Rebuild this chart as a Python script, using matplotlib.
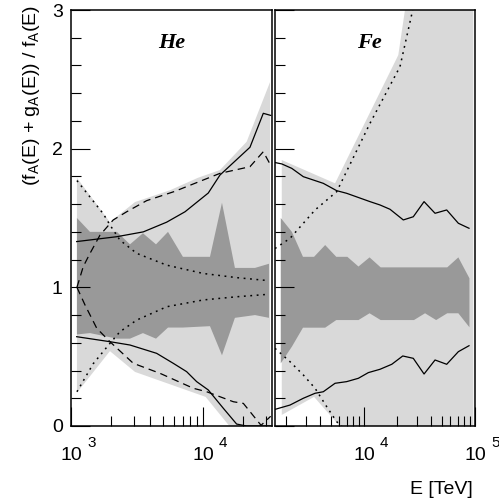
import numpy as np
import matplotlib
matplotlib.use('Agg')
import matplotlib.pyplot as plt
from matplotlib.ticker import LogLocator, NullFormatter, MultipleLocator

plt.rcParams['font.family'] = ['Liberation Sans', 'DejaVu Sans']
plt.rcParams['mathtext.fontset'] = 'custom'
plt.rcParams['mathtext.rm'] = 'Liberation Sans'
plt.rcParams['mathtext.it'] = 'Liberation Sans:italic'

LIGHT = '#d9d9d9'
DARK = '#999999'

# ---- He panel (x values are log10(E/TeV)) ----
he_light_up_x = [3.045, 3.295, 3.485, 3.75, 3.962, 4.129, 4.331, 4.508]
he_light_up_y = [1.79, 1.47, 1.615, 1.70, 1.79, 1.846, 2.05, 2.48]
he_light_lo_x = [3.045, 3.295, 3.485, 4.02, 4.2, 4.508]
he_light_lo_y = [0.24, 0.54, 0.39, 0.21, 0.0, 0.0]

he_dark_x = [3.045, 3.144, 3.348, 3.447, 3.545, 3.644, 3.735, 3.848, 4.053, 4.144, 4.242, 4.394, 4.5]
he_dark_up = [1.50, 1.40, 1.40, 1.31, 1.39, 1.31, 1.40, 1.22, 1.22, 1.61, 1.14, 1.14, 1.17]
he_dark_lo = [0.66, 0.67, 0.63, 0.63, 0.67, 0.63, 0.71, 0.71, 0.72, 0.51, 0.78, 0.80, 0.78]

he_solid_up_x = [3.043, 3.346, 3.548, 3.725, 3.864, 4.04, 4.129, 4.356, 4.457, 4.513]
he_solid_up_y = [1.33, 1.365, 1.40, 1.47, 1.545, 1.68, 1.81, 2.01, 2.255, 2.24]
he_solid_lo_x = [3.043, 3.295, 3.447, 3.649, 3.775, 3.876, 3.952, 4.04, 4.154, 4.255, 4.33, 4.513]
he_solid_lo_y = [0.644, 0.608, 0.584, 0.524, 0.452, 0.392, 0.32, 0.26, 0.128, 0.014, 0.0, 0.0]

he_dash_up_x = [3.045, 3.093, 3.144, 3.22, 3.32, 3.422, 3.573, 3.78, 4.129, 4.356, 4.457, 4.513]
he_dash_up_y = [1.0, 1.15, 1.245, 1.377, 1.486, 1.545, 1.625, 1.69, 1.822, 1.87, 1.978, 1.88]
he_dash_lo_x = [3.045, 3.106, 3.195, 3.27, 3.295, 3.472, 3.674, 3.927, 4.028, 4.23, 4.306, 4.44, 4.513]
he_dash_lo_y = [1.0, 0.873, 0.705, 0.632, 0.608, 0.452, 0.38, 0.272, 0.247, 0.175, 0.163, 0.005, 0.07]

he_dot_up_x = [3.045, 3.245, 3.295, 3.371, 3.498, 3.725, 4.002, 4.255, 4.5]
he_dot_up_y = [1.77, 1.53, 1.45, 1.34, 1.245, 1.16, 1.10, 1.07, 1.048]
he_dot_lo_x = [3.045, 3.169, 3.295, 3.371, 3.498, 3.725, 4.002, 4.255, 4.5]
he_dot_lo_y = [0.247, 0.45, 0.596, 0.68, 0.764, 0.86, 0.909, 0.932, 0.95]

# ---- Fe panel ----
fe_light_up_x = [3.259, 3.739, 4.309, 4.369, 4.985]
fe_light_up_y = [1.918, 1.75, 2.675, 3.0, 4.5]
fe_light_lo_x = [3.259, 3.55, 3.78, 4.985]
fe_light_lo_y = [0.08, 0.21, 0.0, 0.0]

fe_dark_x = [3.25, 3.35, 3.45, 3.55, 3.65, 3.75, 3.85, 3.95, 4.05,
             4.15, 4.25, 4.35, 4.45, 4.55, 4.65, 4.75, 4.85, 4.95]
fe_dark_up = [1.50, 1.40, 1.22, 1.22, 1.305, 1.22, 1.22, 1.15, 1.216,
              1.144, 1.144, 1.144, 1.144, 1.144, 1.144, 1.144, 1.216, 1.065]
fe_dark_lo = [0.452, 0.572, 0.709, 0.709, 0.709, 0.764, 0.764, 0.764, 0.813,
              0.764, 0.764, 0.764, 0.764, 0.813, 0.764, 0.813, 0.813, 0.712]

fe_solid_up_x = [3.198, 3.259, 3.349, 3.453, 3.633, 3.754, 3.844, 4.054, 4.144,
                 4.234, 4.354, 4.444, 4.541, 4.640, 4.745, 4.850, 4.946]
fe_solid_up_y = [1.90, 1.89, 1.858, 1.798, 1.75, 1.697, 1.678, 1.618, 1.594,
                 1.563, 1.486, 1.509, 1.618, 1.534, 1.558, 1.462, 1.426]
fe_solid_lo_x = [3.198, 3.333, 3.453, 3.559, 3.633, 3.739, 3.844, 3.949, 4.039,
                 4.144, 4.25, 4.349, 4.444, 4.541, 4.64, 4.745, 4.85, 4.946]
fe_solid_lo_y = [0.12, 0.151, 0.2, 0.236, 0.247, 0.308, 0.32, 0.344, 0.385,
                 0.409, 0.445, 0.505, 0.488, 0.375, 0.476, 0.445, 0.536, 0.579]

fe_dot_up_x = [3.198, 3.333, 3.559, 3.754, 4.054, 4.324, 4.432, 4.50]
fe_dot_up_y = [1.28, 1.353, 1.558, 1.69, 2.183, 2.591, 2.976, 3.3]
fe_dot_lo_x = [3.198, 3.333, 3.453, 3.559, 3.664, 3.754, 3.80]
fe_dot_lo_y = [0.56, 0.464, 0.368, 0.272, 0.139, 0.031, 0.0]

he_xlim = (3.0, 4.523)
fe_xlim = (3.198, 5.0)
he_ticks = [3, 4]
fe_ticks = [4, 5]


def E(x):
    return 10.0 ** np.asarray(x)


def band(ax, ux, uy, lx, ly, color):
    xs = np.r_[E(ux), E(lx)[::-1]]
    ys = np.r_[uy, ly[::-1]]
    ax.fill(xs, ys, color=color, lw=0, zorder=1)


fig = plt.figure(figsize=(4.99, 5.01), dpi=100)
ax1 = fig.add_axes([71 / 499, 75 / 501, 201 / 499, 416 / 501])
ax2 = fig.add_axes([275 / 499, 75 / 501, 200 / 499, 416 / 501])

dash = (0, (6, 4))
dot = (0, (1.2, 3))
lw = 0.9

# He
band(ax1, he_light_up_x, he_light_up_y, he_light_lo_x, he_light_lo_y, LIGHT)
band(ax1, he_dark_x, he_dark_up, he_dark_x, he_dark_lo, DARK)
ax1.plot(E(he_solid_up_x), he_solid_up_y, 'k-', lw=lw, zorder=3)
ax1.plot(E(he_solid_lo_x), he_solid_lo_y, 'k-', lw=lw, zorder=3)
ax1.plot(E(he_dash_up_x), he_dash_up_y, color='k', ls=dash, lw=lw, zorder=3)
ax1.plot(E(he_dash_lo_x), he_dash_lo_y, color='k', ls=dash, lw=lw, zorder=3)
ax1.plot(E(he_dot_up_x), he_dot_up_y, color='k', ls=dot, lw=1.1, zorder=3)
ax1.plot(E(he_dot_lo_x), he_dot_lo_y, color='k', ls=dot, lw=1.1, zorder=3)

# Fe
band(ax2, fe_light_up_x, fe_light_up_y, fe_light_lo_x, fe_light_lo_y, LIGHT)
band(ax2, fe_dark_x, fe_dark_up, fe_dark_x, fe_dark_lo, DARK)
ax2.plot(E(fe_solid_up_x), fe_solid_up_y, 'k-', lw=lw, zorder=3)
ax2.plot(E(fe_solid_lo_x), fe_solid_lo_y, 'k-', lw=lw, zorder=3)
ax2.plot(E(fe_dot_up_x), fe_dot_up_y, color='k', ls=dot, lw=1.1, zorder=3)
ax2.plot(E(fe_dot_lo_x), fe_dot_lo_y, color='k', ls=dot, lw=1.1, zorder=3)

for ax, xl, tk, name in [(ax1, he_xlim, he_ticks, 'He'), (ax2, fe_xlim, fe_ticks, 'Fe')]:
    ax.set_xscale('log')
    ax.set_xlim(E(xl[0]), E(xl[1]))
    ax.set_ylim(0, 3)
    # "10" under the tick, exponent drawn separately, raised ROOT-style
    ax.set_xticks(E(tk))
    ax.set_xticklabels(['10'] * len(tk), fontsize=14)
    for t in tk:
        ax.annotate(str(t), xy=(E(t), 0), xycoords=('data', 'axes fraction'),
                    xytext=(11.5, -7.5), textcoords='offset points',
                    ha='left', va='top', fontsize=11, annotation_clip=False)
    ax.xaxis.set_minor_locator(LogLocator(base=10, subs=np.arange(2, 10)))
    ax.xaxis.set_minor_formatter(NullFormatter())
    ax.yaxis.set_major_locator(MultipleLocator(1))
    ax.yaxis.set_minor_locator(MultipleLocator(0.2))
    ax.tick_params(which='both', direction='in', top=False, right=False,
                   width=0.8, color='k')
    ax.tick_params(which='major', length=14)
    ax.tick_params(which='minor', length=7)
    ax.tick_params(axis='x', pad=15)
    ax.tick_params(axis='y', labelsize=14, pad=6)
    for s in ax.spines.values():
        s.set_linewidth(1.1)
        s.set_zorder(5)
    ax.set_axisbelow(False)
    ax.text(0.5 if name == 'He' else 0.47, 0.92, name, transform=ax.transAxes,
            ha='center', va='center', fontsize=16, fontweight='bold',
            fontstyle='italic', family='Liberation Serif', zorder=6)

ax2.set_yticklabels([])

fig.text(32 / 499, 1 - 5 / 501, r'(f$_\mathrm{A}$(E) + g$_\mathrm{A}$(E)) / f$_\mathrm{A}$(E)',
         rotation=90, ha='center', va='top', fontsize=14)
fig.text(473 / 499, 1 - 490 / 501, 'E [TeV]', ha='right', va='center', fontsize=14)

fig.savefig('out.png', dpi=100)
